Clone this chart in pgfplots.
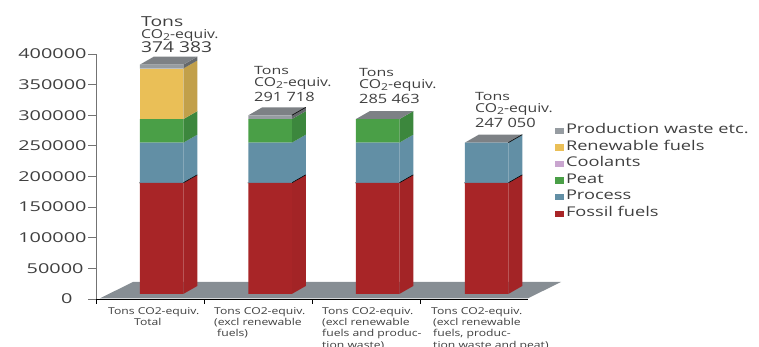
\documentclass[border=0pt]{standalone}
\usepackage{pgfplots}
\pgfplotsset{compat=1.18}
\usepackage{fontspec}
\setmainfont[FakeStretch=1.28]{Open Sans}
\newfontfamily\tickfont[FakeStretch=1.46]{Open Sans}
\newfontfamily\legfont[FakeStretch=1.36]{Open Sans}
\newfontfamily\totfont[FakeStretch=1.4]{Open Sans}
\definecolor{fossil}{HTML}{A82527}
\definecolor{fossilside}{HTML}{A32426}
\definecolor{process}{HTML}{628FA5}
\definecolor{peat}{HTML}{4A9F47}
\definecolor{peatside}{HTML}{3C873D}
\definecolor{coolant}{HTML}{C9A5CF}
\definecolor{renew}{HTML}{EABF57}
\definecolor{renewside}{HTML}{C2A04A}
\definecolor{waste}{HTML}{969CA1}
\definecolor{wasteside}{HTML}{65696C}
\definecolor{topface}{HTML}{7D8185}
\definecolor{floorc}{HTML}{878E94}
\definecolor{inkc}{HTML}{3F3F3F}
\pgfplotsset{
  frame/.style={
    at={(96pt,48pt)}, anchor=origin,
    scale only axis, width=432pt, height=245pt,
    xmin=96, xmax=528, ymin=0, ymax=400000,
    clip=false,
  },
  face/.style={fill=#1, draw=none, forget plot},
  edge/.style={black, line width=0.6pt, forget plot},
}
% Category captions and the totals above the bars
\newcommand{\cat}[3]{\node[anchor=north west, inner sep=0pt, align=left, font=\fontsize{9.5}{11.2}\selectfont, text=inkc] at (axis cs:#1,#2) {#3};}
\newcommand{\total}[7]{\node[anchor=north west, inner sep=0pt, align=left, text=inkc] at (axis cs:#1,#2) {\totfont\fontsize{#7}{13}\selectfont Tons\\[#5]\fontsize{12.3}{13}\selectfont CO\raisebox{-2pt}{\fontsize{9.5}{10}\selectfont 2}-equiv.\\[#6]\fontsize{#3}{13}\selectfont #4};}
\begin{document}
\begin{tikzpicture}[x=1pt,y=1pt]
\path[use as bounding box] (0,0) rectangle (759,347);
% Floor, side and top faces, value axis
\begin{axis}[frame,
  axis x line=none, axis y line*=left,
  y axis line style={draw=black!55, line width=1pt, -},
  ytick={0,50000,100000,150000,200000,250000,300000,350000,400000},
  yticklabels={0\hspace*{14pt},50000\hspace*{3pt},100000,150000,200000,250000,300000,350000,400000},
  scaled y ticks=false,
  tick align=outside,
  y tick style={draw=black!55, line width=0.8pt},
  major tick length=8pt,
  y tick label style={font=\tickfont\fontsize{13.6}{14}\selectfont, text=inkc, xshift=2pt},
]
\addplot[face=floorc] coordinates {(100,1200) (133,27755) (561,27755) (528,1200)} --cycle;
% Bar 1
\addplot[face=fossilside] coordinates {(183.25,8163) (197.25,21223) (197.25,202723) (183.25,189663)} --cycle;
\addplot[face=process] coordinates {(183.25,189663) (197.25,202723) (197.25,268273) (183.25,255213)} --cycle;
\addplot[face=peatside] coordinates {(183.25,255213) (197.25,268273) (197.25,306686) (183.25,293626)} --cycle;
\addplot[face=renewside] coordinates {(183.25,293626) (197.25,306686) (197.25,389351) (183.25,376291)} --cycle;
\addplot[face=wasteside] coordinates {(183.25,376291) (197.25,389351) (197.25,395606) (183.25,382546)} --cycle;
\addplot[face=topface] coordinates {(139.75,382546) (183.25,382546) (197.25,395606) (153.75,395606)} --cycle;
% Bar 2
\addplot[face=fossilside] coordinates {(291.75,8163) (305.75,21223) (305.75,202723) (291.75,189663)} --cycle;
\addplot[face=process] coordinates {(291.75,189663) (305.75,202723) (305.75,268273) (291.75,255213)} --cycle;
\addplot[face=peatside] coordinates {(291.75,255213) (305.75,268273) (305.75,306686) (291.75,293626)} --cycle;
\addplot[face=wasteside] coordinates {(291.75,293626) (305.75,306686) (305.75,312941) (291.75,299881)} --cycle;
\addplot[face=topface] coordinates {(248.25,299881) (291.75,299881) (305.75,312941) (262.25,312941)} --cycle;
% Bar 3
\addplot[face=fossilside] coordinates {(399.25,8163) (413.25,21223) (413.25,202723) (399.25,189663)} --cycle;
\addplot[face=process] coordinates {(399.25,189663) (413.25,202723) (413.25,268273) (399.25,255213)} --cycle;
\addplot[face=peatside] coordinates {(399.25,255213) (413.25,268273) (413.25,306686) (399.25,293626)} --cycle;
\addplot[face=topface] coordinates {(355.75,293626) (399.25,293626) (413.25,306686) (369.75,306686)} --cycle;
% Bar 4
\addplot[face=fossilside] coordinates {(508.25,8163) (522.25,21223) (522.25,202723) (508.25,189663)} --cycle;
\addplot[face=process] coordinates {(508.25,189663) (522.25,202723) (522.25,268273) (508.25,255213)} --cycle;
\addplot[face=topface] coordinates {(464.75,255213) (508.25,255213) (522.25,268273) (478.75,268273)} --cycle;
\end{axis}
% Stacked front faces, category axis and legend
\begin{axis}[frame,
  axis y line=none, axis x line*=bottom,
  x axis line style={draw=black, line width=0.8pt, -},
  xtick={96,204.5,312.5,420.5},
  xticklabels={},
  tick align=outside,
  major tick length=5pt,
  x tick style={draw=black, line width=0.6pt},
  ybar stacked,
  bar width=43.5,
  legend image code/.code={\fill[#1] (0pt,-3.2pt) rectangle (9pt,3.2pt);},
  reverse legend,
  legend cell align=left,
  legend style={
    at={(axis cs:554.5,127500)}, anchor=south west, draw=none, fill=none,
    font=\legfont\fontsize{13.4}{14}\selectfont, text=inkc,
    inner sep=0pt, outer sep=0pt, row sep=2.2pt,
    /tikz/every even column/.style={column sep=5.5pt},
    nodes={inner xsep=2.5pt, inner ysep=0pt, text height=10pt, text depth=4.4pt},
  },
]
\addplot[draw=none, fill=none, forget plot] coordinates {(161.5,8163) (270,8163) (377.5,8163) (486.5,8163)};
\addplot[fill=fossil, draw=none] coordinates {(161.5,181500) (270,181500) (377.5,181500) (486.5,181500)};
\addlegendentry{Fossil fuels}
\addplot[fill=process, draw=none] coordinates {(161.5,65550) (270,65550) (377.5,65550) (486.5,65550)};
\addlegendentry{Process}
\addplot[fill=peat, draw=none] coordinates {(161.5,38413) (270,38413) (377.5,38413) (486.5,0)};
\addlegendentry{Peat}
\addplot[fill=coolant, draw=none] coordinates {(161.5,0) (270,0) (377.5,0) (486.5,0)};
\addlegendentry{Coolants}
\addplot[fill=renew, draw=none] coordinates {(161.5,82665) (270,0) (377.5,0) (486.5,0)};
\addlegendentry{Renewable fuels}
\addplot[fill=waste, draw=none] coordinates {(161.5,6255) (270,6255) (377.5,0) (486.5,0)};
\addlegendentry{Production waste etc.}
% Dark edges along the top of the fossil section
\addplot[edge, sharp plot, stack plots=false] coordinates {(139,189663) (183.25,189663) (197.25,202723)};
\addplot[edge, sharp plot, stack plots=false] coordinates {(247.5,189663) (291.75,189663) (305.75,202723)};
\addplot[edge, sharp plot, stack plots=false] coordinates {(355,189663) (399.25,189663) (413.25,202723)};
\addplot[edge, sharp plot, stack plots=false] coordinates {(464,189663) (508.25,189663) (522.25,202723)};
\addplot[edge, sharp plot, stack plots=false] coordinates {(291.75,299881) (305.75,312941)};
\addplot[edge, sharp plot, stack plots=false] coordinates {(508.25,255213) (522.25,268273)};
% Totals above the bars
\total{141}{462000}{15}{374 383}{0pt}{0pt}{13.8}
\total{254}{380500}{12.8}{291 718}{0pt}{1.5pt}{11.4}
\total{359}{377000}{12.8}{285 463}{0pt}{2pt}{11.4}
\total{475}{337500}{12.8}{247 050}{0pt}{1.5pt}{11.4}
% Category captions
\cat{108}{-13500}{Tons CO2-equiv.\\\hspace*{26pt}Total}
\cat{214}{-13500}{Tons CO2-equiv.\\(excl renewable\\\hspace*{3pt}fuels)}
\cat{322}{-13500}{Tons CO2-equiv.\\(excl renewable\\fuels and produc-\\tion waste)}
\cat{431}{-13500}{Tons CO2-equiv.\\\hspace*{2pt}(excl renewable\\\hspace*{2pt}fuels, produc-\\\hspace*{2pt}tion waste and peat)}
\end{axis}
\end{tikzpicture}
\end{document}
